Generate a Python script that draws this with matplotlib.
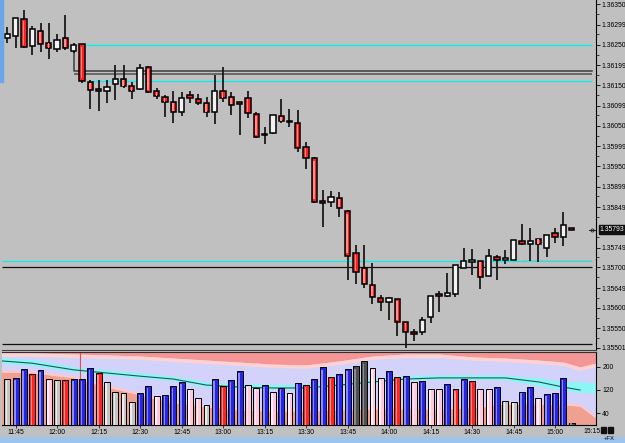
import numpy as np
from matplotlib import pyplot as plt
from matplotlib.patches import Rectangle

# 3 minute bars, first bar at 11:42
opens = [1.36266, 1.36271, 1.36313, 1.36246, 1.36283, 1.36254, 1.36239, 1.36266, 1.36234, 1.36251,
         1.36157, 1.36140, 1.36135, 1.36152, 1.36165, 1.36147, 1.36140, 1.36194, 1.36135, 1.36120,
         1.36108, 1.36083, 1.36125, 1.36115, 1.36106, 1.36083, 1.36135, 1.36120, 1.36104, 1.36118,
         1.36078, 1.36029, 1.36031, 1.36073, 1.36060, 1.36056, 1.35997, 1.35970, 1.35861, 1.35861,
         1.35871, 1.35839, 1.35735, 1.35698, 1.35656, 1.35624, 1.35614, 1.35621, 1.35565, 1.35537,
         1.35540, 1.35577, 1.35631, 1.35629, 1.35634, 1.35698, 1.35714, 1.35715, 1.35678, 1.35725,
         1.35718, 1.35718, 1.35765, 1.35757, 1.35770, 1.35747, 1.35784, 1.35775, 1.35795]
highs = [1.36293, 1.36315, 1.36335, 1.36296, 1.36303, 1.36303, 1.36276, 1.36323, 1.36254, 1.36251,
         1.36162, 1.36162, 1.36162, 1.36199, 1.36199, 1.36157, 1.36202, 1.36197, 1.36143, 1.36125,
         1.36135, 1.36133, 1.36135, 1.36128, 1.36120, 1.36175, 1.36194, 1.36133, 1.36105, 1.36135,
         1.36083, 1.36046, 1.36076, 1.36115, 1.36091, 1.36088, 1.36009, 1.35972, 1.35891, 1.35888,
         1.35886, 1.35841, 1.35755, 1.35755, 1.35710, 1.35631, 1.35626, 1.35621, 1.35565, 1.35547,
         1.35577, 1.35629, 1.35641, 1.35686, 1.35705, 1.35747, 1.35745, 1.35715, 1.35745, 1.35730,
         1.35742, 1.35767, 1.35807, 1.35797, 1.35770, 1.35779, 1.35797, 1.35836, 1.35795]
lows = [1.36254, 1.36241, 1.36241, 1.36224, 1.36231, 1.36214, 1.36231, 1.36236, 1.36229, 1.36155,
        1.36091, 1.36086, 1.36106, 1.36113, 1.36143, 1.36115, 1.36138, 1.36130, 1.36115, 1.36071,
        1.36056, 1.36073, 1.36106, 1.36101, 1.36071, 1.36054, 1.36108, 1.36076, 1.36026, 1.36068,
        1.36019, 1.36004, 1.36029, 1.36056, 1.36046, 1.35984, 1.35942, 1.35859, 1.35799, 1.35849,
        1.35824, 1.35668, 1.35658, 1.35649, 1.35609, 1.35592, 1.35570, 1.35530, 1.35500, 1.35518,
        1.35532, 1.35562, 1.35589, 1.35626, 1.35626, 1.35698, 1.35681, 1.35646, 1.35678, 1.35668,
        1.35708, 1.35718, 1.35755, 1.35715, 1.35713, 1.35725, 1.35760, 1.35752, 1.35793]
closes = [1.36276, 1.36315, 1.36244, 1.36288, 1.36251, 1.36241, 1.36261, 1.36241, 1.36249, 1.36160,
          1.36138, 1.36135, 1.36145, 1.36165, 1.36147, 1.36135, 1.36192, 1.36133, 1.36123, 1.36108,
          1.36083, 1.36118, 1.36118, 1.36106, 1.36083, 1.36135, 1.36118, 1.36101, 1.36103, 1.36081,
          1.36022, 1.36026, 1.36076, 1.36061, 1.36058, 1.35994, 1.35970, 1.35861, 1.35859, 1.35873,
          1.35846, 1.35728, 1.35688, 1.35658, 1.35626, 1.35614, 1.35624, 1.35565, 1.35540, 1.35536,
          1.35570, 1.35629, 1.35630, 1.35636, 1.35705, 1.35715, 1.35715, 1.35676, 1.35728, 1.35718,
          1.35719, 1.35767, 1.35757, 1.35765, 1.35757, 1.35779, 1.35775, 1.35804, 1.35793]

volumes = [157, 162, 194, 176, 191, 158, 155, 155, 158, 159, 198, 178, 149, 114, 111, 77, 108, 133,
           99, 104, 133, 147, 125, 93, 67, 157, 133, 154, 186, 136, 128, 136, 113, 128, 110, 145,
           136, 157, 199, 165, 176, 193, 202, 220, 198, 161, 187, 164, 168, 147, 150, 125, 122, 140,
           122, 159, 151, 125, 122, 129, 81, 79, 114, 129, 93, 105, 110, 162, 6]
vol_kind = "gbbrbpgrbbbrggggbbpbbbppgbrbbppbpbpbrbbrbbddppbrbpbppbrbrppbggbbpbbbd"

# volume bands (bar position, volume units)
band_x = [-0.7, 3, 8, 12, 16, 20, 24, 28, 32, 36, 40, 44, 48, 52, 56, 60, 64, 67, 69, 71]
upper_band = [249, 249, 245, 242, 238, 231, 224, 217, 210, 207, 221, 238, 245, 245, 235, 231, 224, 217, 200, 214]
lower_band = [182, 180, 162, 130, 103, 75, 61, 50, 47, 47, 50, 54, 54, 54, 57, 71, 71, 68, 64, 20]
vol_ma = [221, 213, 190, 179, 168, 158, 137, 130, 127, 127, 137, 148, 158, 162, 162, 162, 148, 130, 120, 118]
cyan_hi = [233, 226, 200, 190, 180, 168, 148, 142, 140, 140, 150, 162, 170, 173, 173, 172, 162, 150, 148, 145]
cyan_lo = [213, 205, 184, 173, 162, 152, 130, 125, 123, 123, 132, 143, 154, 157, 157, 155, 135, 118, 112, 110]

price_ticks = [1.36350, 1.36299, 1.36250, 1.36199, 1.36150, 1.36099, 1.36050, 1.35999, 1.35950,
               1.35899, 1.35849, 1.35749, 1.35700, 1.35649, 1.35600, 1.35550, 1.35501]
last_price = 1.35793
time_labels = ["11:45", "12:00", "12:15", "12:30", "12:45", "13:00", "13:15", "13:30",
               "13:45", "14:00", "14:15", "14:30", "14:45", "15:00", "15:15"]
time_pos = [1, 6, 11, 16, 21, 26, 31, 36, 41, 46, 51, 56, 61, 66, 71]
vol_ticks = [40, 120, 200]

plt.rcParams["font.family"] = ["Liberation Sans", "DejaVu Sans"]

BG = "#c0c0c0"
CYAN = "#00f2f2"
XMIN, XMAX = -0.64, 70.93
FS = 4.9

fig = plt.figure(figsize=(6.25, 4.43), dpi=100, facecolor=BG)
ax = fig.add_axes([2 / 625, 1 - 350 / 443, 594 / 625, 350 / 443], facecolor=BG)
axv = fig.add_axes([2 / 625, 1 - 425 / 443, 594 / 625, 73 / 443], facecolor="#d2d2fa")

idx = np.arange(len(opens))
o = np.array(opens)
c = np.array(closes)
up = c >= o

# level lines
ax.hlines(1.36250, 9.5, 70.5, color=CYAN, lw=1.0, zorder=1)
ax.plot([8, 8, 70.5], [1.36234, 1.36184, 1.36184], color="#3c3c3c", lw=1.1, zorder=1)
ax.hlines(1.36177, 8, 70.5, color="#505050", lw=1.1, zorder=1)
ax.hlines(1.36160, 9.7, 70.5, color=CYAN, lw=0.9, zorder=1)
ax.hlines(1.35718, 62, 70.5, color="#ff9090", lw=0.5, zorder=1)
ax.hlines(1.35715, XMIN, 70.5, color=CYAN, lw=0.9, zorder=1)
ax.hlines(1.35700, XMIN, 70.5, color="#101010", lw=0.9, zorder=1)
ax.hlines(1.35511, XMIN, 70.5, color="#101010", lw=0.9, zorder=1)

# candles
ax.vlines(idx, lows, highs, color="#1a1a1a", lw=1.3, zorder=2)
body_lo = np.minimum(o, c)
body_h = np.maximum(np.abs(c - o), 0.00004)
fills = np.where(up, "#f2f2f2", "#ff2020")
ax.bar(idx, body_h, bottom=body_lo, width=0.64, color=fills, edgecolor="black",
       linewidth=1.1, zorder=3)
red = ~up & (np.abs(c - o) > 0.0001)
ax.bar(idx[red] - 0.05, body_h[red] * 0.85, bottom=body_lo[red] + body_h[red] * 0.075,
       width=0.18, color="#ff9090", linewidth=0, zorder=4)

ax.set_xlim(XMIN, XMAX)
ax.set_ylim(1.35496, 1.36360)
ax.yaxis.tick_right()
ax.set_yticks(price_ticks)
ax.set_yticklabels(["%.5f" % p for p in price_ticks], fontsize=FS)
ax.set_yticks(np.arange(1.35525, 1.36360, 0.0005), minor=True)
ax.tick_params(axis="y", which="major", length=3, width=0.6, pad=1)
ax.tick_params(axis="y", which="minor", length=2, width=0.5)
ax.set_xticks([])
for s in ["left", "top"]:
    ax.spines[s].set_visible(False)
ax.spines["right"].set_linewidth(0.8)
ax.spines["bottom"].set_color("#404040")

# last price marker and label
ax.plot([70.1, 70.8], [last_price, last_price], color="#202020", lw=0.7, clip_on=False)
ax.plot([70.45], [last_price], marker="o", ms=2.2, mfc="none", mec="#202020", mew=0.6, clip_on=False)
ax.text(1.006, last_price, "%.5f" % last_price, transform=ax.get_yaxis_transform(),
        fontsize=FS, color="white", va="center", ha="left",
        bbox=dict(boxstyle="square,pad=0.12", fc="#101010", ec="#101010"))

# volume panel
axv.fill_between(band_x, upper_band, 260, color="#f49696", lw=0)
axv.fill_between(band_x, np.array(upper_band) - 12, upper_band, color="#ffd2d2", lw=0)
axv.fill_between(band_x, cyan_lo, cyan_hi, color="#8cf5f5", lw=0)
axv.fill_between(band_x, -5, lower_band, color="#efa090", lw=0)
axv.fill_between(band_x, lower_band, np.array(lower_band) + 8, color="#ffc8c8", lw=0)
axv.plot(band_x[:-1], vol_ma[:-1], color="#1e5a50", lw=0.8, zorder=3)
axv.axvline(8.76, color="#e05050", lw=0.8, zorder=2)

vcol = {"b": "#2424ea", "r": "#ff2424", "p": "#ffc8dc", "g": "#c4c4c4", "d": "#505050"}
vhi = {"b": "#8c8cff", "r": "#ff9090", "p": "#fff0f6", "g": "#ececec", "d": "#8c8c8c"}
axv.bar(idx, volumes, width=0.72, color=[vcol[k] for k in vol_kind], edgecolor="black",
        linewidth=0.7, zorder=4)
axv.bar(idx - 0.08, np.array(volumes) * 0.96, width=0.18, color=[vhi[k] for k in vol_kind],
        linewidth=0, zorder=5)

axv.set_xlim(XMIN, XMAX)
axv.set_ylim(-1.7, 252)
axv.yaxis.tick_right()
axv.set_yticks(vol_ticks)
axv.set_yticklabels([str(v) for v in vol_ticks], fontsize=FS)
axv.tick_params(axis="y", length=3, width=0.6, pad=1.5)
axv.set_xticks(time_pos[:-1])
axv.set_xticklabels(time_labels[:-1], fontsize=FS)
axv.tick_params(axis="x", length=2, width=0.5, pad=1)
axv.text(70.4, -0.085, time_labels[-1], transform=axv.get_xaxis_transform(),
         fontsize=FS, ha="center", va="center", clip_on=False)
axv.spines["left"].set_visible(False)
axv.spines["top"].set_color("#303030")
axv.spines["right"].set_linewidth(0.8)

# window decorations
fig.add_artist(Rectangle((0, 1 - 82 / 443), 3 / 625, 82 / 443, color="#6aa6e8",
                         transform=fig.transFigure))
fig.add_artist(Rectangle((0, 0), 1, 6 / 443, color="#9cc4ec", transform=fig.transFigure))
fig.add_artist(Rectangle((601 / 625, 1 - 433 / 443), 5 / 625, 6 / 443, color="#101010",
                         transform=fig.transFigure))
fig.add_artist(Rectangle((608 / 625, 1 - 433 / 443), 5 / 625, 6 / 443, color="#101010",
                         transform=fig.transFigure))
fig.text(604 / 625, 1 - 439 / 443, "+FX", fontsize=4.2, ha="left", va="center")

fig.savefig("out.png", dpi=100, facecolor=BG)
